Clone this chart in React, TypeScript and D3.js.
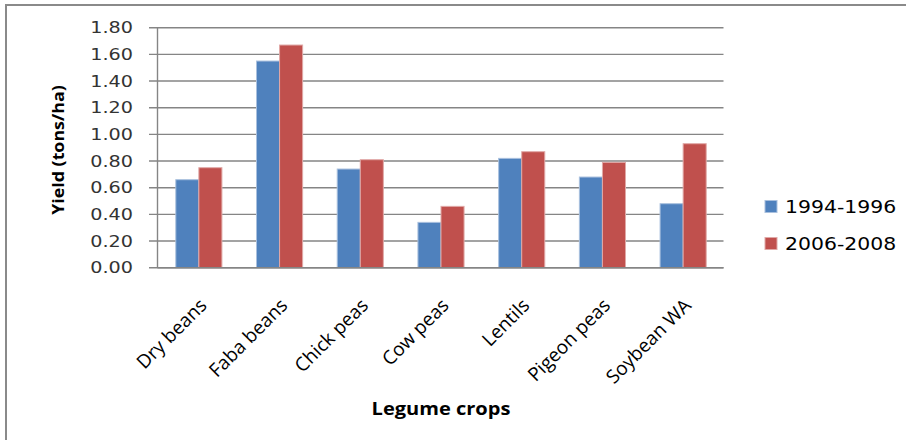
import React from "react";
import * as d3 from "d3";

const categories = ["Dry beans", "Faba beans", "Chick peas", "Cow peas", "Lentils", "Pigeon peas", "Soybean WA"];
const seriesNames = ["1994-1996", "2006-2008"];
const values1994 = [0.66, 1.55, 0.74, 0.34, 0.82, 0.68, 0.48];
const values2006 = [0.75, 1.67, 0.81, 0.46, 0.87, 0.79, 0.93];
const yTicks = [0, 0.2, 0.4, 0.6, 0.8, 1.0, 1.2, 1.4, 1.6, 1.8];
const colors = ["#4F81BD", "#C0504D"];
const strokes = ["#a9c0de", "#e0a9a7"];
const titleText = "Figure 1: Average harvested legume yields by crop";
const yTitle = "Yield (tons/ha)";
const xTitle = "Legume crops";

export default function App() {
  const W = 906, H = 440;
  const plotL = 158.5, plotR = 723.5, plotT = 27.7, plotB = 267.7;
  const x = d3.scaleBand<string>().domain(categories).range([plotL, plotR]).padding(0);
  const y = d3.scaleLinear().domain([0, 1.8]).range([plotB, plotT]);
  const bw = x.bandwidth() / 3.5;
  const series = [values1994, values2006];
  const gridColor = "#858585";
  const sx = 1.2;

  return (
    <svg width={W} height={H} style={{ position: "absolute", left: 0, top: 0, background: "#fff" }}>
      <rect x={0} y={0} width={W} height={H} fill="#fff" />
      <text x={10} y={-6.5} fontFamily="'Liberation Serif', serif" fontWeight="bold" fontSize={28} fill="#000">
        {titleText}
      </text>
      {/* frame */}
      <line x1={6} x2={W} y1={5} y2={5} stroke="#8a8a8a" strokeWidth={2} />
      <line x1={6} x2={6} y1={4} y2={H} stroke="#8a8a8a" strokeWidth={2} />

      {/* gridlines and y ticks */}
      {yTicks.map((t) => (
        <g key={t}>
          <line x1={149} x2={plotR} y1={y(t)} y2={y(t)} stroke={gridColor} strokeWidth={1.4} />
          <g transform={`translate(133,${y(t)}) scale(${sx},1)`}>
            <text x={0} y={0} dy="0.36em" textAnchor="end" fontFamily="'DejaVu Sans', sans-serif" fontSize={16} fill="#333">
              {t.toFixed(2)}
            </text>
          </g>
        </g>
      ))}
      <line x1={157.5} x2={157.5} y1={plotT} y2={plotB} stroke={gridColor} strokeWidth={1.4} />

      {/* bars */}
      {categories.map((c, i) => {
        const cx = (x(c) as number) + x.bandwidth() / 2;
        return (
          <g key={c}>
            {series.map((vals, s) => (
              <rect
                key={s}
                x={cx - bw + s * bw}
                y={y(vals[i])}
                width={bw}
                height={plotB - y(vals[i])}
                fill={colors[s]}
                stroke={strokes[s]}
                strokeWidth={1}
              />
            ))}
          </g>
        );
      })}
      <line x1={plotL - 1} x2={plotR} y1={plotB} y2={plotB} stroke={gridColor} strokeWidth={1.4} />

      {/* x labels */}
      {categories.map((c) => {
        const cx = (x(c) as number) + x.bandwidth() / 2;
        return (
          <g key={c} transform={`translate(${cx + 9},${plotB + 39}) rotate(-45)`}>
            <text x={0} y={0} textAnchor="end" fontFamily="'Open Sans', sans-serif" fontSize={19} fill="#000">
              {c}
            </text>
          </g>
        );
      })}

      {/* axis titles */}
      <g transform={`translate(64,150) rotate(-90) scale(1.08,1)`}>
        <text x={0} y={0} textAnchor="middle" fontFamily="'Open Sans', sans-serif" fontWeight="bold" fontSize={16.5} fill="#000">
          {yTitle}
        </text>
      </g>
      <g transform={`translate(${(plotL + plotR) / 2},415) scale(1.18,1)`}>
        <text x={0} y={0} textAnchor="middle" fontFamily="'Open Sans', sans-serif" fontWeight="bold" fontSize={17} fill="#000">
          {xTitle}
        </text>
      </g>

      {/* legend */}
      {seriesNames.map((n, s) => (
        <g key={n} transform={`translate(765,${200.5 + s * 37})`}>
          <rect x={0} y={0} width={12} height={12} fill={colors[s]} stroke={strokes[s]} strokeWidth={1} />
          <g transform={`translate(20,12.3) scale(${sx},1)`}>
            <text x={0} y={0} fontFamily="'DejaVu Sans', sans-serif" fontSize={17} fill="#000">
              {n}
            </text>
          </g>
        </g>
      ))}
    </svg>
  );
}
